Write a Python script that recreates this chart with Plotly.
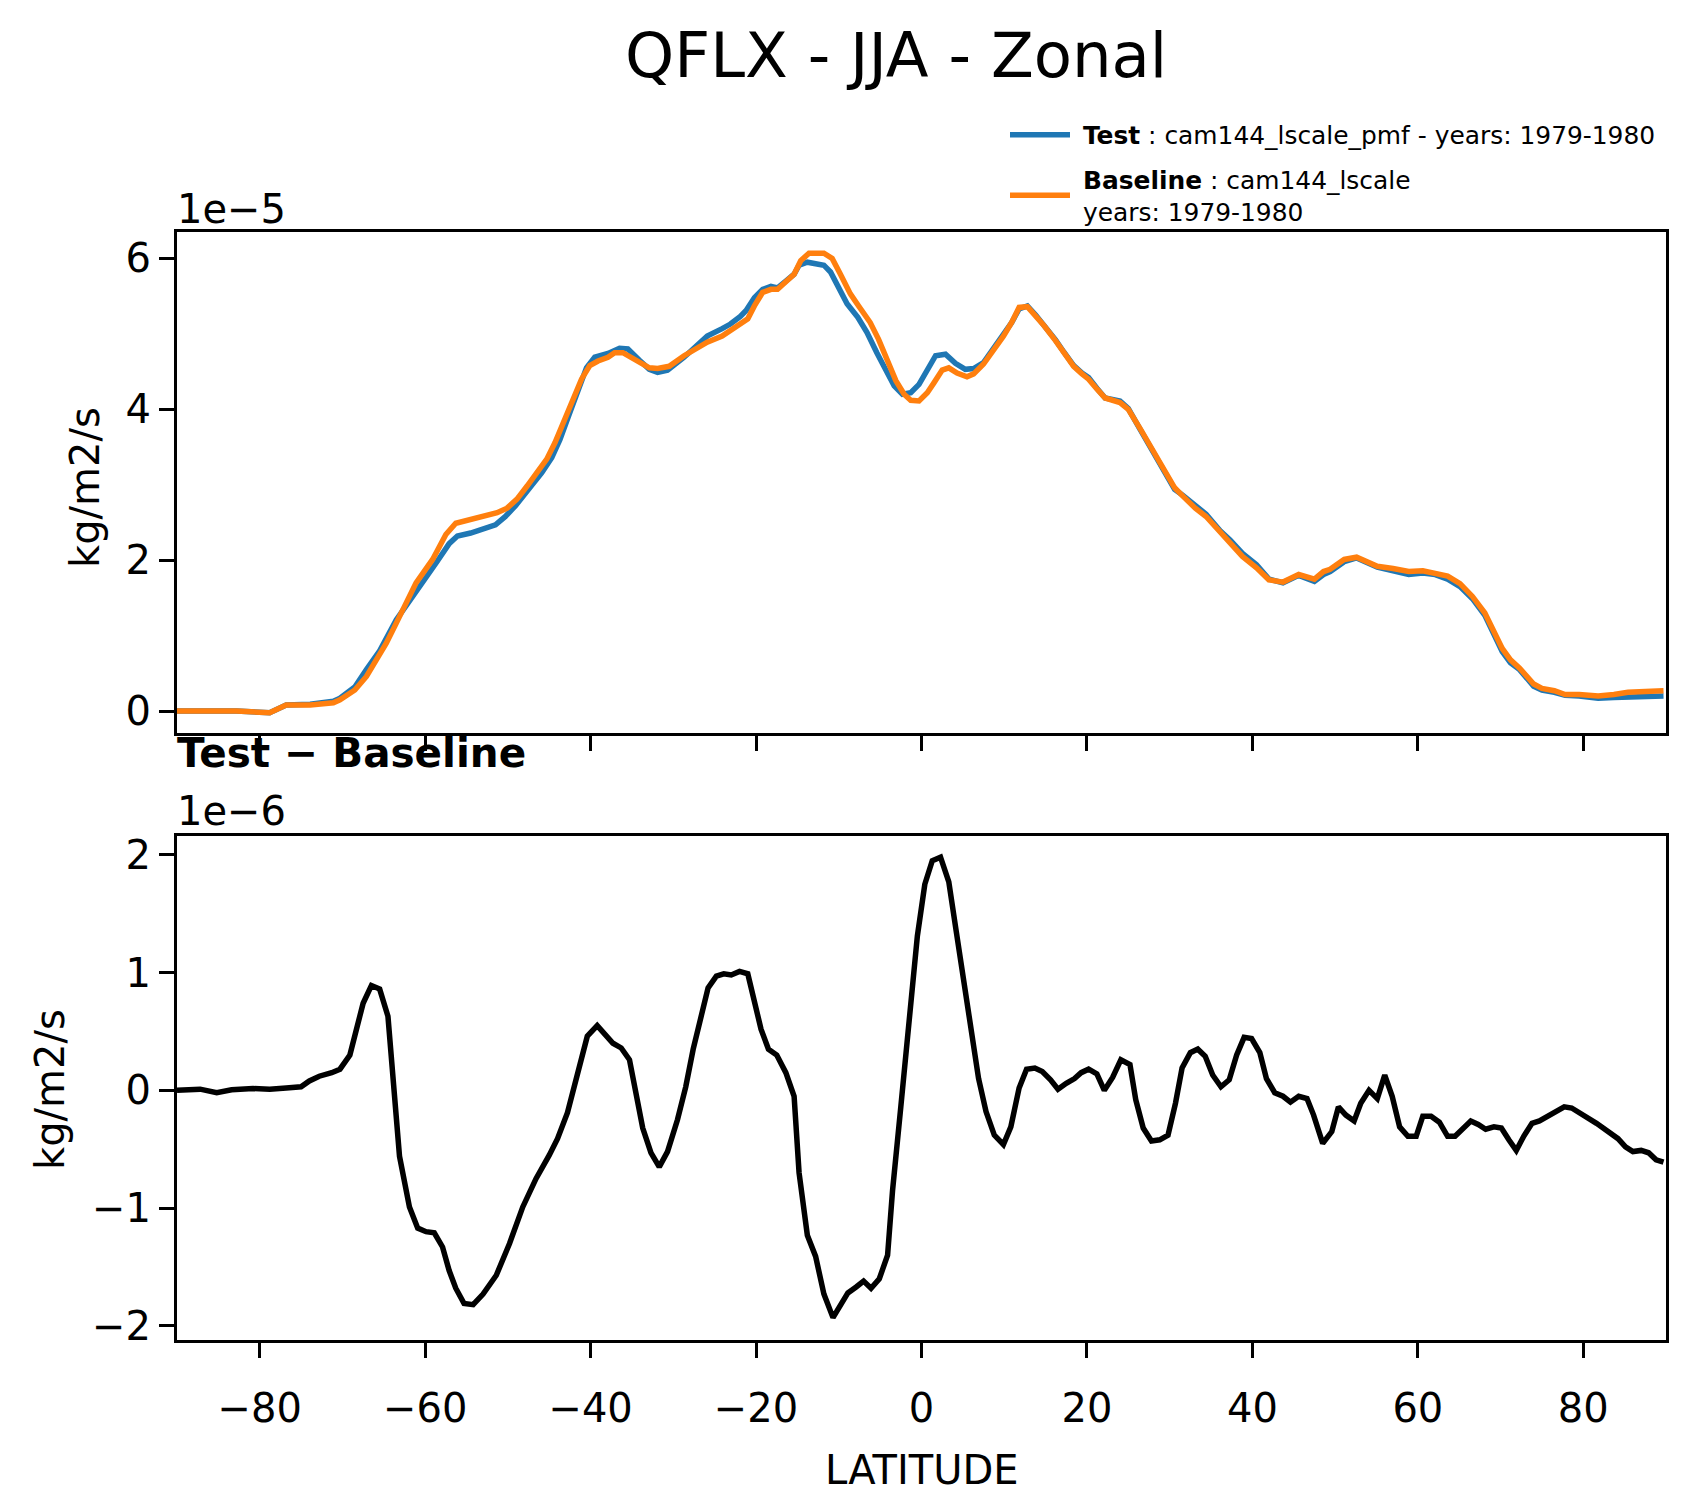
import plotly.graph_objects as go

# ── data ──────────────────────────────────────────────────
# top panel, units of 1e-5 kg/m2/s
lat_base = [-90.0, -86.7, -85.0, -82.8, -78.8, -78.0, -76.8, -73.9, -71.9, -71.1,
            -70.3, -69.5, -68.5, -67.1, -65.7, -64.7, -63.7, -62.7, -61.1, -59.1,
            -57.5, -56.3, -54.7, -53.1, -51.3, -50.1, -48.9, -47.7, -46.3, -45.3,
            -44.3, -43.1, -42.1, -41.1, -40.1, -39.1, -37.9, -37.1, -36.1, -35.1,
            -33.9, -32.9, -31.9, -30.5, -28.7, -27.5, -25.9, -24.1, -23.1, -22.1,
            -21.0, -20.2, -19.2, -18.2, -17.4, -16.4, -15.4, -14.6, -13.6, -11.8,
            -10.8, -9.8, -8.6, -7.6, -6.2, -5.2, -4.1, -3.1, -2.1, -1.3,
            -0.3, 0.7, 1.5, 2.5, 3.3, 4.3, 5.5, 6.3, 7.5, 8.7,
            9.9, 10.9, 11.8, 12.8, 13.8, 14.8, 16.2, 17.2, 18.4, 19.4,
            20.2, 21.2, 22.2, 24.0, 25.0, 26.5, 28.2, 29.5, 30.6, 31.6,
            33.1, 34.4, 36.1, 37.3, 38.8, 40.5, 42.0, 43.7, 45.6, 47.5,
            48.6, 49.4, 51.1, 52.6, 55.1, 57.0, 58.9, 60.6, 62.1, 63.6,
            65.1, 66.6, 68.1, 69.1, 70.2, 71.2, 72.3, 74.0, 75.0, 76.5,
            77.8, 79.5, 81.8, 83.7, 85.4, 87.5, 89.7]
qflx_base = [0.00, 0.00, 0.01, 0.00, -0.02, 0.02, 0.08, 0.08, 0.11, 0.11,
             0.15, 0.21, 0.28, 0.46, 0.70, 0.90, 1.12, 1.34, 1.70, 2.01,
             2.34, 2.49, 2.54, 2.58, 2.63, 2.69, 2.81, 2.98, 3.18, 3.34,
             3.56, 3.87, 4.13, 4.40, 4.58, 4.64, 4.69, 4.75, 4.75, 4.69,
             4.60, 4.55, 4.54, 4.57, 4.71, 4.78, 4.89, 4.97, 5.04, 5.11,
             5.20, 5.37, 5.55, 5.59, 5.59, 5.69, 5.79, 5.97, 6.07, 6.07,
             6.00, 5.79, 5.53, 5.37, 5.15, 4.93, 4.64, 4.38, 4.20, 4.12,
             4.11, 4.22, 4.35, 4.52, 4.55, 4.48, 4.43, 4.47, 4.60, 4.78,
             4.97, 5.15, 5.35, 5.36, 5.24, 5.11, 4.91, 4.75, 4.57, 4.47,
             4.40, 4.27, 4.15, 4.09, 4.00, 3.73, 3.42, 3.18, 2.96, 2.85,
             2.69, 2.58, 2.38, 2.25, 2.05, 1.90, 1.74, 1.71, 1.81, 1.75,
             1.85, 1.88, 2.01, 2.04, 1.92, 1.89, 1.85, 1.86, 1.83, 1.79,
             1.69, 1.52, 1.30, 1.08, 0.83, 0.68, 0.57, 0.36, 0.30, 0.27,
             0.22, 0.22, 0.20, 0.22, 0.25, 0.26, 0.27]

lat_test = [-90.0, -86.7, -85.0, -82.8, -78.8, -78.0, -76.8, -73.9, -71.9, -71.1,
            -70.3, -69.5, -68.5, -67.1, -65.5, -63.5, -61.9, -60.3, -58.7, -57.1,
            -56.1, -54.5, -52.9, -51.5, -50.3, -49.1, -47.5, -45.9, -44.7, -43.7,
            -42.7, -41.5, -40.5, -39.5, -37.9, -36.5, -35.5, -34.1, -32.9, -31.9,
            -30.7, -28.7, -27.5, -25.9, -24.1, -23.1, -21.9, -21.2, -20.2, -19.2,
            -18.2, -17.4, -16.4, -15.4, -14.8, -13.8, -12.8, -11.8, -11.0, -10.0,
            -9.0, -7.7, -6.6, -5.4, -4.3, -3.3, -2.3, -1.3, -0.3, 0.7,
            1.7, 2.9, 4.1, 5.3, 6.3, 7.5, 8.7, 9.9, 10.9, 11.8,
            12.8, 13.8, 14.8, 16.2, 17.2, 18.4, 19.4, 20.2, 21.2, 22.2,
            24.0, 25.0, 26.5, 28.2, 29.5, 30.6, 31.6, 33.1, 34.4, 36.1,
            37.3, 38.8, 40.5, 42.0, 43.7, 45.6, 47.5, 48.6, 49.4, 51.1,
            52.6, 55.1, 57.0, 58.9, 60.6, 62.1, 63.6, 65.1, 66.6, 68.1,
            69.1, 70.2, 71.2, 72.3, 74.0, 75.0, 76.5, 77.8, 79.5, 81.8,
            83.7, 85.4, 87.5, 89.7]
qflx_test = [0.00, 0.00, 0.01, 0.00, -0.02, 0.02, 0.08, 0.09, 0.12, 0.13,
             0.17, 0.24, 0.32, 0.55, 0.80, 1.21, 1.45, 1.72, 1.96, 2.22,
             2.32, 2.36, 2.42, 2.47, 2.58, 2.72, 2.94, 3.16, 3.36, 3.60,
             3.90, 4.27, 4.55, 4.69, 4.74, 4.81, 4.80, 4.65, 4.53, 4.49,
             4.52, 4.69, 4.82, 4.97, 5.07, 5.13, 5.23, 5.31, 5.48, 5.59,
             5.63, 5.61, 5.70, 5.79, 5.91, 5.95, 5.93, 5.91, 5.82, 5.62,
             5.40, 5.22, 5.02, 4.75, 4.51, 4.31, 4.20, 4.22, 4.33, 4.53,
             4.71, 4.73, 4.61, 4.53, 4.54, 4.62, 4.80, 4.97, 5.15, 5.33,
             5.37, 5.25, 5.12, 4.92, 4.76, 4.58, 4.48, 4.42, 4.28, 4.15,
             4.11, 4.01, 3.72, 3.39, 3.14, 2.94, 2.86, 2.72, 2.61, 2.39,
             2.27, 2.09, 1.94, 1.75, 1.70, 1.80, 1.72, 1.81, 1.85, 1.98,
             2.03, 1.91, 1.86, 1.81, 1.83, 1.81, 1.75, 1.65, 1.49, 1.27,
             1.04, 0.79, 0.64, 0.55, 0.33, 0.28, 0.25, 0.21, 0.20, 0.17,
             0.18, 0.19, 0.20, 0.20]

# bottom panel, Test - Baseline, units of 1e-6 kg/m2/s
lat_diff = [-90.0, -87.2, -85.2, -83.4, -80.8, -78.8, -76.8, -75.0, -74.0, -72.8,
            -71.3, -70.3, -69.1, -67.5, -66.5, -65.5, -64.5, -63.1, -61.9, -60.9,
            -59.9, -58.9, -57.9, -57.1, -56.3, -55.3, -54.2, -53.0, -51.4, -49.8,
            -48.2, -46.6, -45.0, -44.0, -42.8, -41.2, -40.4, -39.2, -38.2, -37.3,
            -36.3, -35.3, -33.7, -32.7, -31.7, -30.7, -29.5, -28.5, -27.6, -26.6,
            -25.8, -24.8, -23.9, -23.0, -22.0, -21.0, -20.2, -19.4, -18.5, -17.5,
            -16.4, -15.4, -14.8, -13.8, -12.8, -11.8, -10.7, -9.7, -8.9, -7.9,
            -7.0, -6.1, -5.1, -4.1, -3.5, -2.5, -1.5, -0.5, 0.4, 1.3,
            2.3, 3.3, 4.2, 5.1, 6.0, 6.9, 7.8, 8.8, 9.9, 10.8,
            11.8, 12.7, 13.7, 14.6, 15.6, 16.5, 17.5, 18.5, 19.3, 20.2,
            21.2, 22.1, 23.1, 24.1, 25.2, 25.9, 26.8, 27.8, 28.8, 29.8,
            30.7, 31.5, 32.5, 33.4, 34.3, 35.2, 36.2, 37.2, 38.1, 39.0,
            39.9, 40.9, 41.7, 42.7, 43.7, 44.6, 45.6, 46.6, 47.4, 48.5,
            49.6, 50.4, 51.3, 52.3, 53.1, 54.1, 55.1, 56.0, 56.9, 57.8,
            58.8, 59.8, 60.6, 61.6, 62.6, 63.6, 64.5, 65.5, 66.4, 67.3,
            68.2, 69.2, 70.1, 71.0, 71.9, 72.8, 73.8, 74.7, 75.7, 76.7,
            77.7, 78.6, 79.6, 80.6, 81.6, 82.4, 83.3, 84.2, 85.1, 86.0,
            87.0, 87.9, 88.8, 89.7]
qflx_diff = [0.00, 0.01, -0.02, 0.005, 0.015, 0.01, 0.02, 0.03, 0.08, 0.12,
             0.15, 0.18, 0.30, 0.74, 0.89, 0.86, 0.63, -0.56, -0.99, -1.17,
             -1.20, -1.21, -1.33, -1.53, -1.68, -1.81, -1.82, -1.73, -1.57, -1.30,
             -0.99, -0.75, -0.55, -0.41, -0.19, 0.26, 0.46, 0.55, 0.47, 0.40,
             0.36, 0.26, -0.32, -0.53, -0.65, -0.52, -0.25, 0.03, 0.35, 0.66,
             0.87, 0.97, 0.99, 0.98, 1.01, 0.99, 0.77, 0.52, 0.35, 0.30,
             0.15, -0.05, -0.70, -1.23, -1.41, -1.73, -1.93, -1.81, -1.72, -1.67,
             -1.62, -1.68, -1.60, -1.40, -0.85, -0.14, 0.57, 1.31, 1.75, 1.95,
             1.98, 1.77, 1.35, 0.92, 0.50, 0.10, -0.18, -0.38, -0.46, -0.31,
             0.02, 0.18, 0.19, 0.16, 0.09, 0.01, 0.06, 0.10, 0.15, 0.18,
             0.14, 0.00, 0.11, 0.26, 0.22, -0.08, -0.32, -0.43, -0.42, -0.38,
             -0.11, 0.19, 0.32, 0.35, 0.29, 0.13, 0.03, 0.09, 0.30, 0.45,
             0.44, 0.32, 0.10, -0.02, -0.05, -0.10, -0.05, -0.07, -0.21, -0.45,
             -0.35, -0.14, -0.21, -0.26, -0.11, 0.00, -0.07, 0.13, -0.05, -0.31,
             -0.39, -0.39, -0.22, -0.22, -0.27, -0.39, -0.39, -0.32, -0.26, -0.29,
             -0.33, -0.31, -0.32, -0.42, -0.51, -0.39, -0.28, -0.26, -0.22, -0.17,
             -0.14, -0.15, -0.19, -0.24, -0.28, -0.32, -0.36, -0.41, -0.48, -0.52,
             -0.51, -0.53, -0.59, -0.61]

lat_ticks = [-80, -60, -40, -20, 0, 20, 40, 60, 80]
top_ticks = [0, 2, 4, 6]
bot_ticks = [-2, -1, 0, 1, 2]

TOP_SCALE = 1e-5
BOT_SCALE = 1e-6

NB = "\u00a0"
test_label = NB + "<b>Test</b> : cam144_lscale_pmf - years: 1979-1980"
base_label = NB + "<b>Baseline</b> : cam144_lscale<br>" + NB + "years: 1979-1980"


def minus(v):
    return str(v).replace("-", "\u2212")


# ── layout geometry (pixels of the 1695x1496 page) ────────
W, H = 1695, 1496
L, R, T, B = 177, 1666, 232, 1340
TOP_BOTTOM, BOT_TOP = 733, 836
FONT = "DejaVu Sans"


def px(p):
    return (p - L) / (R - L)


def py(p):
    return (B - p) / (B - T)


fig = go.Figure()
fig.add_trace(go.Scatter(x=lat_test, y=[v * TOP_SCALE for v in qflx_test],
                         mode="lines", name=test_label, legendgroup="test",
                         line=dict(color="#1f77b4", width=5.5),
                         xaxis="x", yaxis="y"))
fig.add_trace(go.Scatter(x=lat_base, y=[v * TOP_SCALE for v in qflx_base],
                         mode="lines", name=base_label, legendgroup="base",
                         line=dict(color="#ff7f0e", width=5.5),
                         xaxis="x", yaxis="y"))
fig.add_trace(go.Scatter(x=lat_diff, y=[v * BOT_SCALE for v in qflx_diff],
                         mode="lines", showlegend=False,
                         line=dict(color="black", width=5.5),
                         xaxis="x2", yaxis="y2"))

axis_common = dict(showline=True, linecolor="black", linewidth=3.3, mirror=True,
                   ticks="outside", ticklen=15, tickwidth=3.3, tickcolor="black",
                   showgrid=False, zeroline=False,
                   tickfont=dict(family=FONT, size=40, color="black"))

fig.update_layout(
    width=W, height=H,
    paper_bgcolor="white", plot_bgcolor="white",
    margin=dict(l=L, r=W - R, t=T, b=H - B, pad=0),
    font=dict(family=FONT, color="black"),
    xaxis=dict(range=[-90, 90], tickvals=lat_ticks, showticklabels=False,
               anchor="y", **axis_common),
    yaxis=dict(range=[-0.29 * TOP_SCALE, 6.35 * TOP_SCALE],
               domain=[py(TOP_BOTTOM), 1],
               tickvals=[v * TOP_SCALE for v in top_ticks],
               ticktext=[minus(v) for v in top_ticks], anchor="x", **axis_common),
    xaxis2=dict(range=[-90, 90], tickvals=lat_ticks,
                ticktext=[minus(v) for v in lat_ticks], matches="x",
                anchor="y2", ticklabelstandoff=16, **axis_common),
    yaxis2=dict(range=[-2.12 * BOT_SCALE, 2.16 * BOT_SCALE],
                domain=[0, py(BOT_TOP)],
                tickvals=[v * BOT_SCALE for v in bot_ticks],
                ticktext=[minus(v) for v in bot_ticks], anchor="x2", **axis_common),
    legend=dict(x=px(1005), y=py(112), xanchor="left", yanchor="top",
                bgcolor="rgba(0,0,0,0)", itemwidth=60, tracegroupgap=9,
                font=dict(family=FONT, size=24.9, color="black")),
    showlegend=True,
)

ann = [
    dict(text="QFLX - JJA - Zonal", x=px(896), y=py(56), size=62.5,
         xanchor="center", yanchor="middle"),
    dict(text="1e\u22125", x=px(175), y=py(209), size=40, xanchor="left",
         yanchor="middle"),
    dict(text="<b>Test \u2212 Baseline</b>", x=px(175), y=py(753), size=40.5,
         xanchor="left", yanchor="middle"),
    dict(text="1e\u22126", x=px(175), y=py(811), size=40, xanchor="left",
         yanchor="middle"),
    dict(text="LATITUDE", x=px(921), y=py(1495), size=40, xanchor="center",
         yanchor="bottom"),
    dict(text="kg/m2/s", x=px(85), y=py(488), size=40, xanchor="center",
         yanchor="middle", textangle=-90),
    dict(text="kg/m2/s", x=px(50), y=py(1090), size=40, xanchor="center",
         yanchor="middle", textangle=-90),
]
for a in ann:
    fig.add_annotation(text=a["text"], x=a["x"], y=a["y"], xref="paper",
                       yref="paper", showarrow=False, xanchor=a["xanchor"],
                       yanchor=a["yanchor"], textangle=a.get("textangle", 0),
                       font=dict(family=FONT, size=a["size"], color="black"))

# the page body has a default 8px margin; drop it so the figure sits at 0,0
fig.write_html("out.html", config={"displayModeBar": False},
               post_script="document.body.style.margin='0';"
                           "document.body.style.overflow='hidden';")
